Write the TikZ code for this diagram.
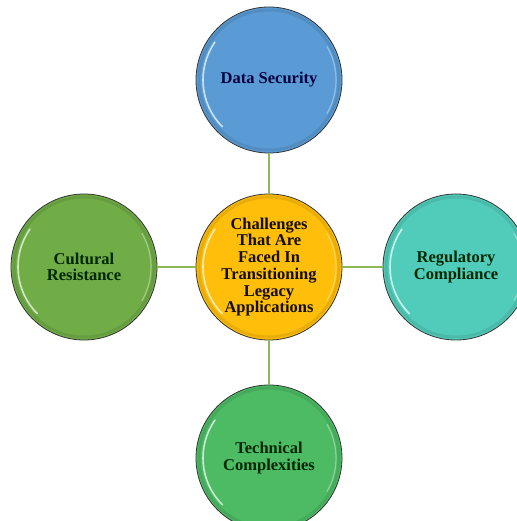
\documentclass[tikz,border=0pt]{standalone}
\usepackage{fontspec}
\setmainfont{Liberation Serif}
\usepackage{xcolor}
\usepackage{tikz}
\usetikzlibrary{
	positioning,						% Relative positioning
	calc								% Coordinate calculations
}
\definecolor{sec-blue}{RGB}{91, 155, 213}
\definecolor{hub-gold}{RGB}{255, 190, 10}
\definecolor{reg-teal}{RGB}{82, 204, 186}
\definecolor{cult-green}{RGB}{112, 173, 71}
\definecolor{tech-green}{RGB}{76, 187, 100}
\definecolor{link-green}{RGB}{141, 184, 86}

\begin{document}
\begin{tikzpicture}[x=1pt, y=-1pt]
		\tikzstyle{bubble} = [draw=black!80, line width=0.8pt, circle, inner sep=0pt, minimum size=146pt, align=center, font=\fontsize{16.5}{16.7}\selectfont\bfseries]
		\tikzstyle{link} = [draw=link-green, line width=1.8pt]
		
		\useasboundingbox (0,0) rectangle (516,521);
		
		% Hub and the four challenges
		\node[bubble, fill=hub-gold, text=black!90!brown] at (269, 267) (hub) {Challenges\\That Are\\Faced In\\Transitioning\\Legacy\\Applications};
		\node[bubble, fill=sec-blue, text=blue!25!black] at (269, 80) (dataSec) {Data Security};
		\node[bubble, fill=reg-teal, text=green!15!black] at (456, 267) (regComp) {Regulatory\\Compliance};
		\node[bubble, fill=tech-green, text=green!15!black] at (269, 458) (techComp) {Technical\\Complexities};
		\node[bubble, fill=cult-green, text=green!15!black] at (84, 267) (cultRes) {Cultural\\Resistance};
		
		% Glossy rim: darker edge and a white highlight on the left
		\foreach \b/\c in {hub/hub-gold, dataSec/sec-blue, regComp/reg-teal, techComp/tech-green, cultRes/cult-green}{
			\draw[\c!75!black, opacity=0.35, line width=3pt] (\b.center) circle (70pt);
			\draw[white, opacity=0.7, line width=1.6pt, line cap=round] ([shift={(145:66pt)}]\b.center) arc[start angle=145, end angle=225, radius=66pt];
			\draw[white, opacity=0.35, line width=1.2pt, line cap=round] ([shift={(-30:67pt)}]\b.center) arc[start angle=-30, end angle=30, radius=67pt];
		}
		
		% Links
		\foreach \b in {dataSec, regComp, techComp, cultRes}{
			\draw[link] (hub) -- (\b);
		}
	\end{tikzpicture}
\end{document}
